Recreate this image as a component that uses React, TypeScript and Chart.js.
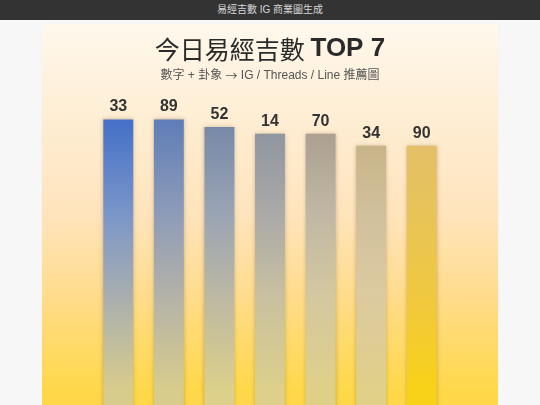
import React, { useEffect, useRef } from "react";
import { Chart, registerables } from "chart.js";

Chart.register(...registerables);

const headerText = "易經吉數 IG 商業圖生成";
const titleParts = ["今日易經吉數 ", "TOP 7"];
const subtitleParts = ["數字 + 卦象 ", "→", " IG / Threads / Line 推薦圖"];
const numbers = ["33", "89", "52", "14", "70", "34", "90"];
const scores = [95, 95, 93.4, 92, 92, 89.5, 89.5];

const barPalette = [
  ["#4470c8", "#7b96c8", "#a8aeb0", "#d8cc8c"],
  ["#5f7db8", "#8e9cb8", "#b3b2a8", "#d8cc8c"],
  ["#7889a8", "#9aa4b4", "#bcb8a4", "#dcd08a"],
  ["#9096a0", "#aaaaa8", "#c8c0a0", "#dcd08a"],
  ["#aca090", "#c0b8a4", "#d4c8a0", "#dfd088"],
  ["#c8b488", "#d0c09c", "#dccaa0", "#e0d088"],
  ["#e4bf68", "#e8c458", "#f0c840", "#f8d218"],
];

const FONT = '"Liberation Sans", Arial, "Noto Sans CJK TC", sans-serif';
const CJK = '"Noto Sans CJK TC", sans-serif';
const PANEL_TOP = 24;

const titleFonts = [`normal 25px ${CJK}`, `bold 26px ${FONT}`];
const subtitleFonts = [`12px ${FONT}`, `12px ${CJK}`, `12px ${FONT}`];

function drawParts(ctx: any, parts: string[], fonts: string[], cx: number, cy: number, color: string) {
  let total = 0;
  const widths = parts.map((p, i) => {
    ctx.font = fonts[i];
    const w = ctx.measureText(p).width;
    total += w;
    return w;
  });
  let x = cx - total / 2;
  ctx.fillStyle = color;
  ctx.textAlign = "left";
  ctx.textBaseline = "middle";
  parts.forEach((p, i) => {
    ctx.font = fonts[i];
    ctx.fillText(p, x, cy);
    x += widths[i];
  });
}

const titlePlugin = {
  id: "customTitle",
  afterDraw(chart: any) {
    const ctx = chart.ctx;
    const cx = chart.width / 2;
    ctx.save();
    drawParts(ctx, titleParts, titleFonts, cx, 49 - PANEL_TOP, "#2a2a2a");
    drawParts(ctx, subtitleParts, subtitleFonts, cx, 76 - PANEL_TOP, "#555555");
    ctx.restore();
  },
};

const shadowPlugin = {
  id: "barShadow",
  beforeDatasetsDraw(chart: any) {
    const ctx = chart.ctx;
    ctx.save();
    ctx.shadowColor = "rgba(60,40,0,0.28)";
    ctx.shadowBlur = 4;
    ctx.shadowOffsetX = 0;
    ctx.shadowOffsetY = 0;
  },
  afterDatasetsDraw(chart: any) {
    chart.ctx.restore();
  },
};

const labelPlugin = {
  id: "numLabels",
  afterDatasetsDraw(chart: any) {
    const ctx = chart.ctx;
    const meta = chart.getDatasetMeta(0);
    ctx.save();
    ctx.font = `bold 16px ${FONT}`;
    ctx.fillStyle = "#333333";
    ctx.textAlign = "center";
    ctx.textBaseline = "alphabetic";
    meta.data.forEach((bar: any, i: number) => {
      ctx.fillText(numbers[i], bar.x, bar.y - 8);
    });
    ctx.restore();
  },
};

export default function App() {
  const ref = useRef<HTMLCanvasElement>(null);

  useEffect(() => {
    document.body.style.margin = "0";
    document.body.style.background = "#f7f7f7";
    if (!ref.current) return;
    const chart = new Chart(ref.current, {
      type: "bar",
      data: {
        labels: numbers,
        datasets: [
          {
            data: scores,
            barPercentage: 0.592,
            categoryPercentage: 1,
            borderWidth: 0,
            backgroundColor: (c: any) => {
              const ch = c.chart;
              const area = ch.chartArea;
              const i = c.dataIndex;
              const pal = barPalette[i] || barPalette[0];
              if (!area || c.parsed == null) return pal[0];
              const yTop = ch.scales.y.getPixelForValue(c.parsed.y);
              const yEnd = 400 - PANEL_TOP;
              const g = ch.ctx.createLinearGradient(0, yTop, 0, yEnd);
              const span = yEnd - yTop;
              const at = (py: number) =>
                Math.min(1, Math.max(0, (py - PANEL_TOP - yTop) / span));
              g.addColorStop(0, pal[0]);
              g.addColorStop(at(215), pal[1]);
              g.addColorStop(at(295), pal[2]);
              g.addColorStop(at(390), pal[3]);
              g.addColorStop(1, pal[3]);
              return g;
            },
          },
        ],
      },
      options: {
        animation: false,
        responsive: false,
        maintainAspectRatio: false,
        layout: { padding: { left: 51, right: 51, bottom: 49, top: 71.4 } },
        scales: {
          x: { display: false },
          y: { display: false, min: 0, max: 100 },
        },
        plugins: {
          legend: { display: false },
          tooltip: { enabled: false },
          title: { display: false },
          subtitle: { display: false },
        },
      },
      plugins: [shadowPlugin, labelPlugin, titlePlugin],
    } as any);
    return () => chart.destroy();
  }, []);

  return (
    <div style={{ fontFamily: FONT }}>
      <div
        style={{
          height: 20,
          background: "#333333",
          color: "#d8d8d8",
          fontSize: 10,
          lineHeight: "20px",
          textAlign: "center",
        }}
      >
        {headerText}
      </div>
      <div
        style={{
          width: 456,
          margin: "4px auto 0",
          borderRadius: 4,
          background:
            "linear-gradient(180deg, #fff8ec 0px, #feedd2 100px, #ffe4bc 191px, #ffdc8c 271px, #ffd84a 366px, #ffd63a 600px)",
          boxShadow: "0 0 2px rgba(0,0,0,0.06)",
        }}
      >
        <canvas ref={ref} width={456} height={600} style={{ display: "block" }} />
      </div>
    </div>
  );
}
